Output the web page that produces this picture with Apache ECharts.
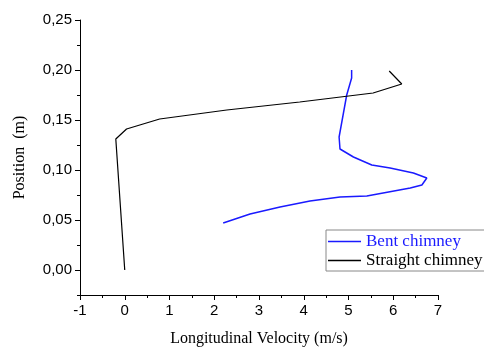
<!DOCTYPE html>
<html>
<head>
<meta charset="utf-8">
<script src="https://cdn.jsdelivr.net/npm/echarts@6/dist/echarts.min.js"></script>
<style>
html,body{margin:0;padding:0;background:#fff;}
#chart{width:484px;height:347px;}
</style>
</head>
<body>
<div id="chart"></div>
<script>
// Data
var seriesNames = ['Bent chimney', 'Straight chimney'];
var bentVelocity = [2.20, 2.80, 3.47, 4.14, 4.81, 5.41, 6.38, 6.64, 6.75, 6.45, 5.93, 5.52, 5.11, 4.81, 4.79, 4.96, 5.07, 5.07];
var bentPosition = [0.047, 0.056, 0.063, 0.069, 0.073, 0.074, 0.082, 0.085, 0.092, 0.097, 0.102, 0.105, 0.113, 0.121, 0.133, 0.175, 0.192, 0.200];
var straightVelocity = [0.00, -0.20, 0.04, 0.78, 2.28, 3.91, 5.55, 6.19, 5.91];
var straightPosition = [0.000, 0.131, 0.141, 0.151, 0.160, 0.168, 0.177, 0.186, 0.199];
var yTickValues = [0, 0.05, 0.10, 0.15, 0.20, 0.25];

function pairs(xs, ys) {
  var out = [];
  for (var i = 0; i < xs.length; i++) out.push([xs[i], ys[i]]);
  return out;
}

var chart = echarts.init(document.getElementById('chart'), null, {renderer: 'canvas'});
var sans = 'Liberation Sans';
var serif = 'Liberation Serif';

chart.setOption({
  backgroundColor: '#fff',
  animation: false,
  grid: {left: 80, right: 46, top: 20, bottom: 52, containLabel: false, outerBoundsMode: 'none'},
  legend: {
    orient: 'vertical',
    left: 326,
    top: 230,
    padding: [3, 2, 2, 2],
    itemGap: 2,
    itemWidth: 33,
    itemHeight: 1.5,
    icon: 'rect',
    borderColor: '#888',
    borderWidth: 1,
    textStyle: {fontFamily: serif, fontSize: 17, color: '#000'},
    data: [
      {name: seriesNames[0], textStyle: {color: '#1a1aff'}},
      {name: seriesNames[1], textStyle: {color: '#000'}}
    ]
  },
  xAxis: {
    type: 'value',
    min: -1,
    max: 7,
    interval: 1,
    name: 'Longitudinal Velocity (m/s)',
    nameLocation: 'middle',
    nameGap: 36,
    nameTextStyle: {fontFamily: serif, fontSize: 16, color: '#000'},
    axisLine: {show: true, onZero: false, lineStyle: {color: '#000', width: 1}},
    axisTick: {show: true, length: 5, lineStyle: {color: '#000'}},
    minorTick: {show: true, splitNumber: 2, length: 3, lineStyle: {color: '#000'}},
    axisLabel: {fontFamily: sans, fontSize: 15, color: '#000', margin: 8},
    splitLine: {show: false}
  },
  yAxis: [{
    type: 'value',
    min: -0.025,
    max: 0.25,
    position: 'left',
    name: 'Position  (m)',
    nameLocation: 'middle',
    nameGap: 52,
    nameRotate: 90,
    nameTextStyle: {fontFamily: serif, fontSize: 16, color: '#000'},
    axisLine: {show: true, onZero: false, lineStyle: {color: '#000', width: 1}},
    axisTick: {show: true, length: 5, customValues: yTickValues, lineStyle: {color: '#000'}},
    axisLabel: {
      fontFamily: sans, fontSize: 15, color: '#000', margin: 8,
      customValues: yTickValues,
      formatter: function (v) { return v.toFixed(2).replace('.', ','); }
    },
    splitLine: {show: false}
  }, {
    type: 'value',
    min: -0.025,
    max: 0.25,
    interval: 0.025,
    position: 'left',
    offset: 0,
    axisLine: {show: false, onZero: false},
    axisTick: {show: true, length: 3, lineStyle: {color: '#000'}},
    axisLabel: {show: false},
    splitLine: {show: false}
  }],
  series: [{
    name: seriesNames[0],
    type: 'line',
    data: pairs(bentVelocity, bentPosition),
    symbol: 'none',
    lineStyle: {color: '#1a1aff', width: 1.5},
    itemStyle: {color: '#1a1aff'}
  }, {
    name: seriesNames[1],
    type: 'line',
    data: pairs(straightVelocity, straightPosition),
    symbol: 'none',
    lineStyle: {color: '#000', width: 1.2},
    itemStyle: {color: '#000'}
  }]
});
</script>
</body>
</html>
